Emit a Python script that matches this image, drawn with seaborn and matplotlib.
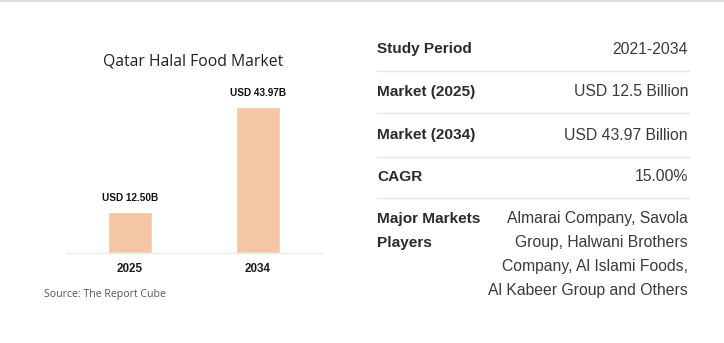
import matplotlib
matplotlib.use("Agg")
import matplotlib.pyplot as plt
import seaborn as sns
import pandas as pd
from matplotlib.lines import Line2D

years = ["2025", "2034"]
values = [12.50, 43.97]
value_labels = ["USD 12.50B", "USD 43.97B"]
title = "Qatar Halal Food Market"
source = "Source: The Report Cube"
row_labels = ["Study Period", "Market (2025)", "Market (2034)", "CAGR", "Major Markets\nPlayers"]
row_values = ["2021-2034", "USD 12.5 Billion", "USD 43.97 Billion", "15.00%",
              "Almarai Company, Savola\nGroup, Halwani Brothers\nCompany, Al Islami Foods,\nAl Kabeer Group and Others"]

sns.set_theme(style="white")
plt.rcParams["font.family"] = ["Liberation Sans", "DejaVu Sans"]

W, H = 724, 343
fig = plt.figure(figsize=(W / 100, H / 100), dpi=100)
fig.patch.set_facecolor("white")

def fx(px):
    return px / W

def fy(py):
    return 1 - py / H

# top border
fig.add_artist(Line2D([0, 1], [fy(0.8), fy(0.8)], color="#dcdcdc", lw=1.5))

top_px, base_px = 80, 253.3
ax = fig.add_axes([fx(66), fy(base_px), fx(322 - 66), (base_px - top_px) / H])
df = pd.DataFrame({"year": years, "value": values})
sns.barplot(data=df, x="year", y="value", color="#F5C6A5", saturation=1, width=0.345, ax=ax)
ax.set_xlim(-0.5, 1.5)
ax.set_ylim(0, (base_px - top_px) / 3.334)
for s in ["top", "right", "left"]:
    ax.spines[s].set_visible(False)
ax.spines["bottom"].set_color("#ebebeb")
ax.spines["bottom"].set_linewidth(1)
ax.set_yticks([])
ax.set_xlabel("")
ax.set_ylabel("")
ax.tick_params(axis="x", length=0, pad=7)
for lab in ax.get_xticklabels():
    lab.set_fontweight("bold")
    lab.set_fontsize(8.4)
    lab.set_color("#1a1a1a")
for i, (v, t) in enumerate(zip(values, value_labels)):
    ax.annotate(t, (i, v), xytext=(0, 6.5), textcoords="offset points", ha="center", va="bottom",
                fontsize=7.2, fontweight="bold", color="#111111")

fig.text(fx(193), fy(62), title, ha="center", va="center", fontsize=11.3,
         family=["Open Sans", "DejaVu Sans"], color="#222222")
fig.text(fx(44), fy(294), source, ha="left", va="center", fontsize=7.6,
         family=["Open Sans", "DejaVu Sans"], color="#555555")

# table
label_x, value_x = 377, 688
row_y = [49.3, 91.7, 135, 176.7, 219]
sep_y = [70.7, 113.3, 156.7, 198.3]
line_h = 23.8
for lbl, val, y in zip(row_labels, row_values, row_y):
    for k, ln in enumerate(lbl.split("\n")):
        fig.text(fx(label_x), fy(y + k * line_h), ln, ha="left", va="center", fontsize=11.1,
                 fontweight="bold", color="#2b2b2b")
    for k, ln in enumerate(val.split("\n")):
        fig.text(fx(value_x), fy(y + k * line_h), ln, ha="right", va="center", fontsize=11.3,
                 color="#3a3a3a")
for y in sep_y:
    fig.add_artist(Line2D([fx(377), fx(689)], [fy(y), fy(y)], color="#e6e6e6", lw=1))

fig.savefig("out.png", dpi=100, facecolor="white")
